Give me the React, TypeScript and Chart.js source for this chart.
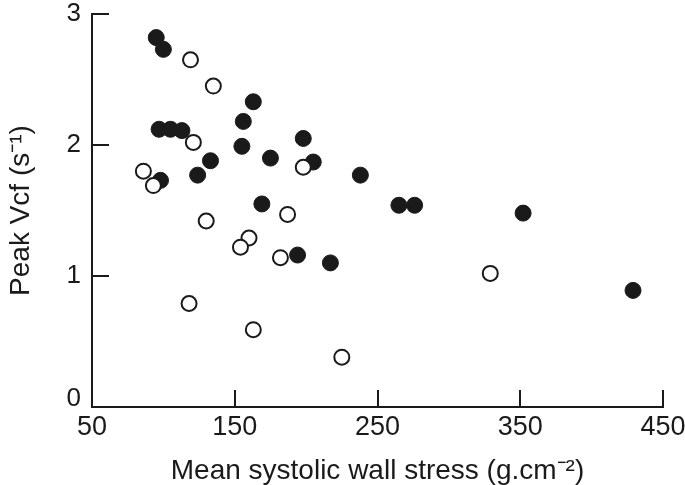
import React, { useEffect, useRef } from "react";
import { Chart, registerables } from "chart.js";

Chart.register(...registerables);

const xTicks = [50, 150, 250, 350, 450];
const yTicks = [0, 1, 2, 3];

const filledStress = [95, 100, 163, 156, 97, 105, 113, 155, 175, 133, 124, 98, 198, 205, 238, 169, 265, 276, 352, 194, 217, 429];
const filledVcf = [2.82, 2.73, 2.33, 2.18, 2.12, 2.12, 2.11, 1.99, 1.9, 1.88, 1.77, 1.73, 2.05, 1.87, 1.77, 1.55, 1.54, 1.54, 1.48, 1.16, 1.1, 0.89];

const openStress = [119, 135, 121, 86, 93, 198, 130, 187, 160, 154, 182, 118, 163, 225, 329];
const openVcf = [2.65, 2.45, 2.02, 1.8, 1.69, 1.83, 1.42, 1.47, 1.29, 1.22, 1.14, 0.79, 0.59, 0.38, 1.02];

const INK = "#1a1a1a";
const FONT = "'Liberation Sans', Arial, Helvetica, sans-serif";

const innerTicks = {
  id: "innerTicks",
  beforeDatasetsDraw(chart: any) {
    const { ctx, chartArea } = chart;
    const xs = chart.scales.x;
    const ys = chart.scales.y;
    const len = 17;
    ctx.save();
    ctx.strokeStyle = INK;
    ctx.lineWidth = 2;
    ctx.beginPath();
    xTicks.forEach((v) => {
      if (v === xs.min) return;
      const px = Math.round(xs.getPixelForValue(v));
      ctx.moveTo(px, chartArea.bottom);
      ctx.lineTo(px, chartArea.bottom - len);
    });
    yTicks.forEach((v) => {
      if (v === ys.min) return;
      const py = Math.round(ys.getPixelForValue(v));
      ctx.moveTo(chartArea.left, py);
      ctx.lineTo(chartArea.left + len, py);
    });
    ctx.stroke();
    ctx.restore();
  },
};

export default function App() {
  const ref = useRef<HTMLCanvasElement | null>(null);
  useEffect(() => {
    if (!ref.current) return;
    const chart = new Chart(ref.current, {
      type: "scatter",
      data: {
        datasets: [
          {
            label: "open",
            data: openStress.map((x, i) => ({ x, y: openVcf[i] })),
            pointRadius: 7.5,
            pointBackgroundColor: "#ffffff",
            pointBorderColor: INK,
            pointBorderWidth: 2,
            pointHoverRadius: 7.5,
          },
          {
            label: "filled",
            data: filledStress.map((x, i) => ({ x, y: filledVcf[i] })),
            pointRadius: 8,
            pointBackgroundColor: INK,
            pointBorderColor: INK,
            pointBorderWidth: 1,
            pointHoverRadius: 8,
          },
        ],
      },
      options: {
        responsive: false,
        animation: false,
        events: [],
        layout: { padding: { top: 14, right: 22, left: 0, bottom: 0 } },
        plugins: { legend: { display: false }, tooltip: { enabled: false } },
        scales: {
          x: {
            type: "linear",
            min: 50,
            max: 450,
            afterBuildTicks: (s: any) => {
              s.ticks = xTicks.map((v) => ({ value: v }));
            },
            afterFit: (s: any) => {
              s.height = 78;
              s.paddingLeft = 0;
              s.paddingRight = 0;
            },
            grid: { drawOnChartArea: false, drawTicks: false },
            border: { display: true, color: INK, width: 2 },
            ticks: {
              color: INK,
              padding: 7,
              maxRotation: 0,
              autoSkip: false,
              font: { family: FONT, size: 27, lineHeight: 1 },
            },
            title: {
              display: true,
              text: "Mean systolic wall stress (g.cm\u207B\u00B2)",
              color: INK,
              font: { family: FONT, size: 28, lineHeight: 1 },
              padding: { top: 0, bottom: 0 },
            },
          },
          y: {
            type: "linear",
            min: 0,
            max: 3,
            afterBuildTicks: (s: any) => {
              s.ticks = yTicks.map((v) => ({ value: v }));
            },
            afterFit: (s: any) => {
              s.width = 92;
              s.paddingTop = 0;
              s.paddingBottom = 0;
            },
            grid: { drawOnChartArea: false, drawTicks: false },
            border: { display: true, color: INK, width: 2 },
            ticks: {
              color: INK,
              padding: 11,
              autoSkip: false,
              callback: (v: any) => (v === 0 ? ["0", ""] : String(v)),
              font: (c: any) => ({
                family: FONT,
                size: 26,
                lineHeight: c.tick && c.tick.value === 0 ? 0.62 : 1,
              }),
            },
            title: {
              display: true,
              text: "Peak Vcf (s\u207B\u00B9)",
              color: INK,
              font: { family: FONT, size: 28, lineHeight: 1.2 },
              padding: { top: 4, bottom: 0 },
            },
          },
        },
      },
      plugins: [innerTicks],
    });
    return () => chart.destroy();
  }, []);
  return (
    <div style={{ position: "fixed", left: 0, top: 0, width: 685, height: 485, background: "#fff" }}>
      <canvas ref={ref} width={685} height={485} style={{ display: "block" }} />
    </div>
  );
}
